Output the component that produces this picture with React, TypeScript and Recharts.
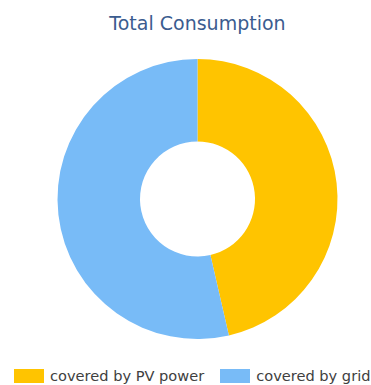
import React from "react";
import { PieChart, Pie, Cell, Legend } from "recharts";

const categories = ["covered by PV power", "covered by grid"];
const values = [46.4, 53.6];
const colors = ["#FFC400", "#78BBF7"];
const title = "Total Consumption";

const data = categories.map((name, i) => ({ name, value: values[i] }));

const renderLegend = () => (
  <div style={{ display: "flex", alignItems: "center", fontFamily: "'DejaVu Sans', sans-serif", fontSize: 14.6, color: "#404040" }}>
    {categories.map((c, i) => (
      <div key={c} style={{ display: "flex", alignItems: "center", marginRight: i === 0 ? 16 : 0 }}>
        <span style={{ display: "inline-block", width: 30, height: 14, background: colors[i], marginRight: 6 }} />
        <span>{c}</span>
      </div>
    ))}
  </div>
);

export default function App() {
  return (
    <div style={{ position: "absolute", left: 0, top: 0, width: 371, height: 385, background: "#fff" }}>
      <div
        style={{
          position: "absolute",
          top: 12,
          left: 0,
          width: 395,
          textAlign: "center",
          fontFamily: "'DejaVu Sans', sans-serif",
          fontSize: 19,
          color: "#3B5C8F",
        }}
      >
        {title}
      </div>
      <PieChart width={371} height={385}>
        <Pie
          data={data}
          dataKey="value"
          nameKey="name"
          cx={192.5}
          cy={194}
          innerRadius={57.5}
          outerRadius={140}
          startAngle={90}
          endAngle={-270}
          stroke="none"
          isAnimationActive={false}
        >
          {data.map((d, i) => (
            <Cell key={d.name} fill={colors[i]} />
          ))}
        </Pie>
        <Legend
          content={renderLegend}
          wrapperStyle={{ position: "absolute", left: 14, top: 367, width: 370 }}
        />
      </PieChart>
    </div>
  );
}
